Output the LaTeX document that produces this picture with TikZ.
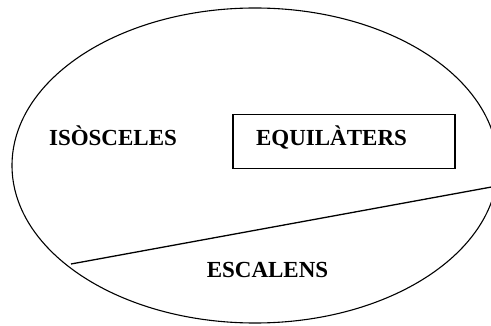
\documentclass[tikz,border=0pt]{standalone}
\usepackage{fontspec}
\setmainfont{Liberation Serif}
\usetikzlibrary{shapes.geometric}
\begin{document}
\begin{tikzpicture}[x=1pt,y=-1pt,
  lbl/.style={font=\fontsize{23}{26}\selectfont\bfseries, anchor=base, inner sep=0pt},
  set/.style={draw, line width=1.1pt}]
\useasboundingbox (0,0) rectangle (491,326);
\node[set, ellipse, minimum width=486, minimum height=315, inner sep=0pt] (all) at (255,165.5) {};
\node[draw, line width=1.5pt, minimum width=222, minimum height=54, inner sep=0pt] (eqbox) at (344,141.5) {};
\node[lbl] (iso) at (113,146) {ISÒSCELES};
\node[lbl] (equi) at (331.5,146) {EQUILÀTERS};
\node[lbl] (esc) at (267.5,278) {ESCALENS};
\coordinate (L) at (71,264);
\coordinate (R) at (497,186);
\draw[line width=1.3pt] (L) -- (R);
\end{tikzpicture}
\end{document}
